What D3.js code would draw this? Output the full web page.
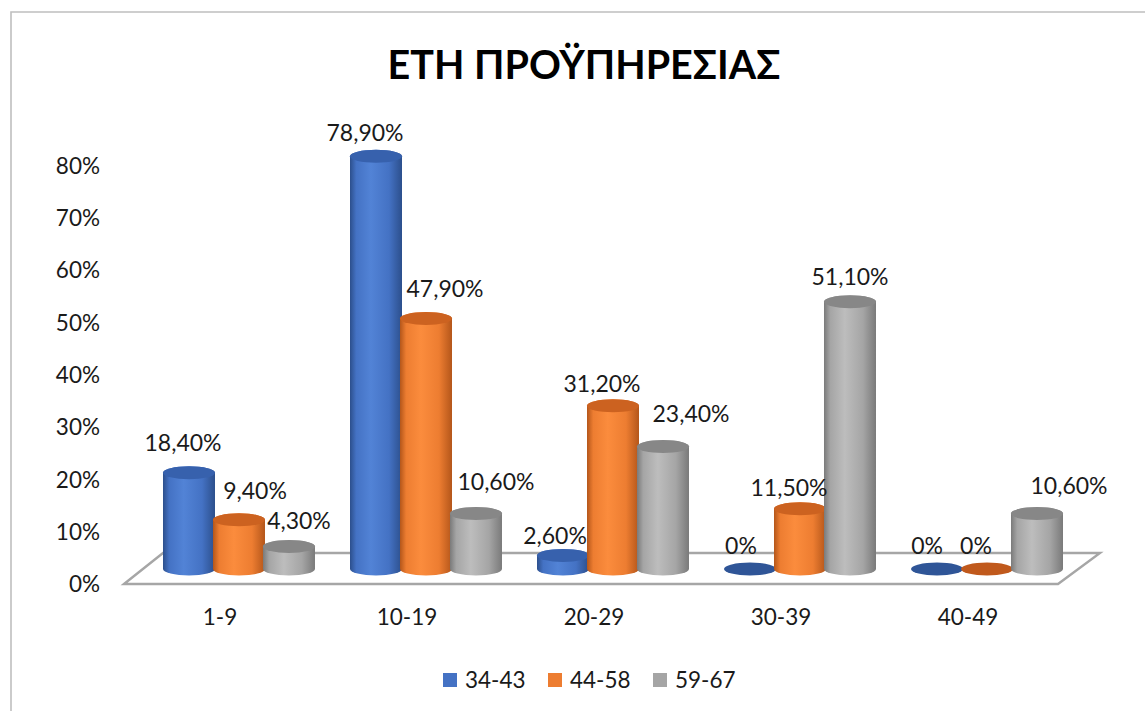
<!DOCTYPE html>
<html>
<head>
<meta charset="utf-8">
<script src="https://cdn.jsdelivr.net/npm/d3@7"></script>
<style>
  html, body { margin: 0; padding: 0; background: #fff; }
  svg { display: block; }
  text { font-family: Lato, "Noto Sans", sans-serif; fill: #1a1a1a; }
</style>
</head>
<body>
<svg id="chart" width="1145" height="711"></svg>
<script>
// ---- data ----
const categories = ["1-9", "10-19", "20-29", "30-39", "40-49"];
const seriesNames = ["34-43", "44-58", "59-67"];
const values3443 = [0.184, 0.789, 0.026, 0.0, 0.0];
const values4458 = [0.094, 0.479, 0.312, 0.115, 0.0];
const values5967 = [0.043, 0.106, 0.234, 0.511, 0.106];
const yTicks = [0, 0.1, 0.2, 0.3, 0.4, 0.5, 0.6, 0.7, 0.8];

// ---- styling / layout ----
const seriesColors = [
  { base: "#4472C4", dark: "#2c4f8c", light: "#5283d6", top: "#3761ad", flat: "#2f5597" },
  { base: "#ED7D31", dark: "#b4561a", light: "#fb8c3d", top: "#cc6220", flat: "#c0591c" },
  { base: "#A5A5A5", dark: "#7a7a7a", light: "#bdbdbd", top: "#878787", flat: "#8a8a8a" }
];
// label offsets (dx, dy) from each cylinder's top centre, per series
const labelNudge = [
  [[-6, -30], [-11, -24], [-8, -20], [-9, -23], [-10, -23]],
  [[16, -29], [19, -30], [-11, -22], [-11, -21], [-11, -23]],
  [[10, -26], [20, -32], [28, -33], [0, -25], [32, -28]]
];

const series = seriesNames.map((name, i) => ({
  name, values: [values3443, values4458, values5967][i], color: seriesColors[i]
}));

const svg = d3.select("#chart");
const defs = svg.append("defs");

// outer chart frame (left and top edges visible)
svg.append("path")
  .attr("d", "M11,711 L11,12 L1145,12")
  .attr("fill", "none").attr("stroke", "#bfbfbf").attr("stroke-width", 1.6);

// title
svg.append("text")
  .attr("x", 584).attr("y", 79)
  .attr("text-anchor", "middle")
  .style("font-size", "39.5px").style("font-weight", "bold").style("fill", "#000")
  .text("ΕΤΗ ΠΡΟΫΠΗΡΕΣΙΑΣ");

// ---- scales ----
const y = d3.scaleLinear().domain([0, 0.8]).range([584, 165.6]);
const depthDX = 19, depthDY = -15;       // mid-depth offset of the cylinders from the front edge
const floorDX = 39, floorDY = -31;       // full depth of the floor

// band scale along the plane where the cylinders stand
const x = d3.scaleBand().domain(categories).range([164, 1062]).paddingInner(0.198).paddingOuter(0);
const xs = d3.scaleBand().domain(seriesNames).range([0, x.bandwidth()]);
const rx = 26, ry = 6.5;

// ---- floor ----
const backL = x.range()[0] - 1, backR = x.range()[1] + 38;
svg.append("path")
  .attr("d", `M${backL - floorDX},${y(0)} L${backL},${y(0) + floorDY} L${backR},${y(0) + floorDY} L${backR - floorDX - 3},${y(0)} Z`)
  .attr("fill", "#fff").attr("stroke", "#a6a6a6").attr("stroke-width", 2.4)
  .attr("stroke-linejoin", "miter");

// ---- y axis labels ----
svg.append("g").selectAll("text").data(yTicks).join("text")
  .attr("x", 100).attr("y", d => y(d)).attr("dy", "0.36em")
  .attr("text-anchor", "end")
  .style("font-size", "22.5px")
  .text(d3.format(".0%"));

// ---- x axis labels (front edge) ----
svg.append("g").selectAll("text").data(categories).join("text")
  .attr("x", d => x(d) + x.bandwidth() / 2 - depthDX)
  .attr("y", 617).attr("dy", "0.36em")
  .attr("text-anchor", "middle")
  .style("font-size", "22.5px")
  .text(d => d);

// ---- gradients ----
series.forEach((s, i) => {
  const g = defs.append("linearGradient").attr("id", "cyl" + i)
    .attr("x1", "0").attr("x2", "1").attr("y1", "0").attr("y2", "0");
  g.append("stop").attr("offset", "0").attr("stop-color", s.color.dark);
  g.append("stop").attr("offset", "0.12").attr("stop-color", s.color.base);
  g.append("stop").attr("offset", "0.4").attr("stop-color", s.color.light);
  g.append("stop").attr("offset", "0.75").attr("stop-color", s.color.base);
  g.append("stop").attr("offset", "1").attr("stop-color", s.color.dark);
});

// ---- cylinders ----
const baseY = y(0) + depthDY;
const fmt = v => v === 0 ? "0%" : d3.format(".2f")(v * 100).replace(".", ",") + "%";
const cyl = svg.append("g");
const labels = svg.append("g");

categories.forEach((cat, ci) => {
  series.forEach((s, si) => {
    const v = s.values[ci];
    const cx = x(cat) + xs(s.name) + xs.bandwidth() / 2;
    const topY = y(v) + depthDY;
    if (v > 0) {
      cyl.append("path")
        .attr("d", `M${cx - rx},${topY} L${cx - rx},${baseY} A${rx},${ry} 0 0 0 ${cx + rx},${baseY} L${cx + rx},${topY} A${rx},${ry} 0 0 0 ${cx - rx},${topY} Z`)
        .attr("fill", `url(#cyl${si})`);
      cyl.append("ellipse")
        .attr("cx", cx).attr("cy", topY).attr("rx", rx).attr("ry", ry)
        .attr("fill", s.color.top);
    } else {
      cyl.append("ellipse")
        .attr("cx", cx).attr("cy", baseY).attr("rx", rx).attr("ry", ry)
        .attr("fill", s.color.flat);
    }
    const [ndx, ndy] = labelNudge[si][ci];
    labels.append("text")
      .attr("x", cx + ndx).attr("y", topY + ndy).attr("dy", "0.36em")
      .attr("text-anchor", "middle")
      .style("font-size", "23px")
      .text(fmt(v));
  });
});

// ---- legend ----
const legendX = [443, 548, 653];
const lg = svg.append("g");
series.forEach((s, i) => {
  lg.append("rect").attr("x", legendX[i]).attr("y", 673).attr("width", 14).attr("height", 14)
    .attr("fill", s.color.base);
  lg.append("text").attr("x", legendX[i] + 22).attr("y", 680).attr("dy", "0.36em")
    .style("font-size", "22.5px").text(s.name);
});
</script>
</body>
</html>
